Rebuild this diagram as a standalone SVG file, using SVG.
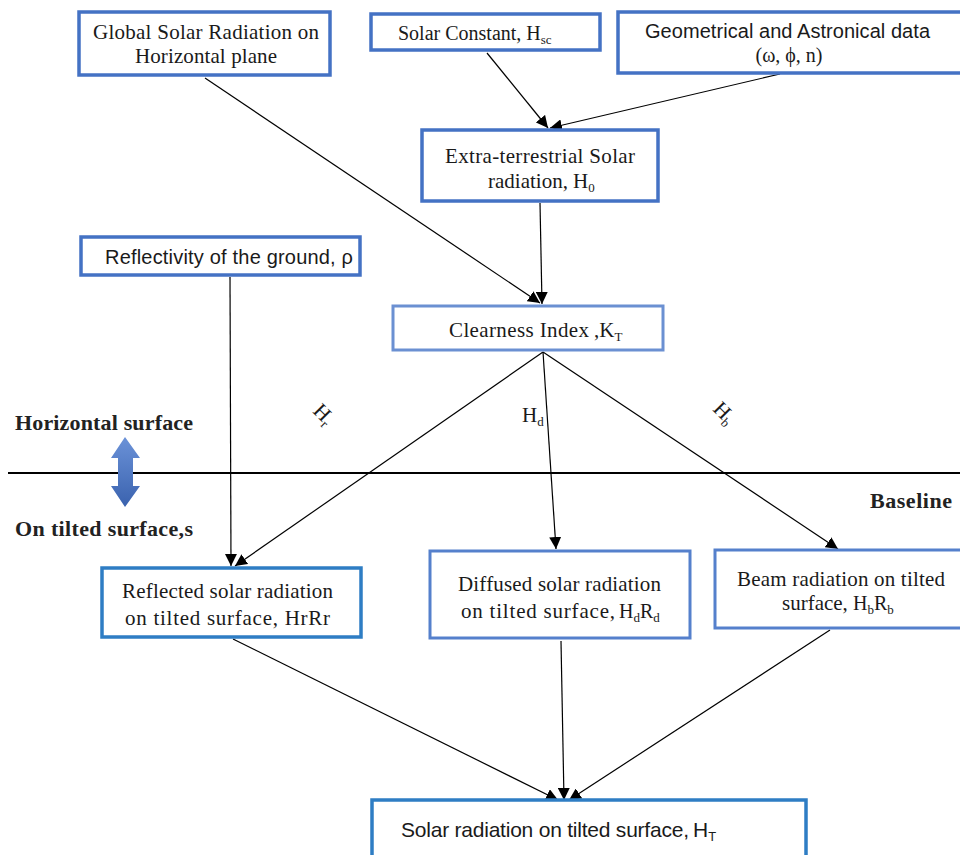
<svg xmlns="http://www.w3.org/2000/svg" width="960" height="855" viewBox="0 0 960 855">
<style>
.bx{fill:#fff;stroke:#4472c4;stroke-width:3.5}
.bx2{fill:#fff;stroke:#2e7dc4;stroke-width:3.5}
.bx3{fill:#fff;stroke:#5580cc;stroke-width:3}
.bx4{fill:#fff;stroke:#6b90d2;stroke-width:3}
.t{font-family:"Liberation Serif","Times New Roman",serif;font-size:20px;fill:#1a1a1a}
.L{font-size:21px}
.m{text-anchor:middle}
.s{font-family:"Liberation Sans",Arial,sans-serif;font-size:20px;fill:#1a1a1a}
.b{font-family:"Liberation Serif","Times New Roman",serif;font-size:22px;font-weight:bold;fill:#222}
.sub{font-size:13px}
.c line{stroke:#000;stroke-width:1.2}
</style>
<defs>
<marker id="ah2" viewBox="0 0 10 10" refX="10" refY="5" markerWidth="12" markerHeight="12" markerUnits="userSpaceOnUse" orient="auto"><path d="M0,0 L10,5 L0,10 z" fill="#000"/></marker>
<linearGradient id="ag" x1="0" y1="0" x2="0" y2="1"><stop offset="0" stop-color="#6b92d8"/><stop offset="1" stop-color="#3a62ae"/></linearGradient>
</defs>
<rect width="960" height="855" fill="#fff"/>
<g class="c">
<line x1="205" y1="78" x2="540" y2="303" marker-end="url(#ah2)"/>
<line x1="487" y1="53" x2="548" y2="128" marker-end="url(#ah2)"/>
<line x1="780" y1="74" x2="550" y2="128" marker-end="url(#ah2)"/>
<line x1="540" y1="203" x2="542" y2="304" marker-end="url(#ah2)"/>
<line x1="230" y1="277" x2="231" y2="566" marker-end="url(#ah2)"/>
<line x1="543" y1="352" x2="235" y2="566" marker-end="url(#ah2)"/>
<line x1="543" y1="352" x2="556" y2="549" marker-end="url(#ah2)"/>
<line x1="543" y1="352" x2="838" y2="549" marker-end="url(#ah2)"/>
<line x1="233" y1="639" x2="558" y2="800" marker-end="url(#ah2)"/>
<line x1="561" y1="641" x2="564" y2="800" marker-end="url(#ah2)"/>
<line x1="830" y1="630" x2="569" y2="800" marker-end="url(#ah2)"/>
<line x1="8" y1="473" x2="960" y2="473" style="stroke-width:2"/>
</g>
<g id="global"><rect class="bx" x="79" y="12" width="251" height="63"/><text class="t L" x="93" y="39" textLength="226" lengthAdjust="spacing">Global Solar Radiation on</text><text class="t L" x="135" y="63" textLength="142" lengthAdjust="spacing">Horizontal plane</text></g>
<g id="solarconst"><rect class="bx" x="371" y="14" width="229" height="36"/><text class="t" x="398" y="40">Solar Constant,  H<tspan class="sub" dy="4">sc</tspan></text></g>
<g id="geo"><rect class="bx" x="618" y="12" width="345" height="61"/><text class="s" x="645" y="38" textLength="285" lengthAdjust="spacing">Geometrical and Astronical data</text><text class="t m" x="789" y="62">(ω, ϕ, n)</text></g>
<g id="extra"><rect class="bx" x="422" y="130" width="236" height="71"/><text class="t L" x="445" y="163" textLength="190" lengthAdjust="spacing">Extra-terrestrial Solar</text><text class="t L" x="488" y="188">radiation,</text><text class="t L" x="573" y="188">H<tspan class="sub" dy="4">0</tspan></text></g>
<g id="reflect"><rect class="bx" x="81" y="237" width="279" height="38"/><text class="s" x="105" y="264" textLength="248" lengthAdjust="spacing">Reflectivity  of the ground, ρ</text></g>
<g id="clear"><rect class="bx4" x="393" y="306" width="270" height="44"/><text class="t L" x="449" y="337" textLength="140" lengthAdjust="spacing">Clearness Index</text><text class="t L" x="594" y="337">,K<tspan class="sub" dy="4">T</tspan></text></g>
<g id="labels">
<text class="b" x="15" y="430" textLength="178" lengthAdjust="spacing">Horizontal surface</text>
<text class="b" x="15" y="536" textLength="178" lengthAdjust="spacing">On tilted surface,s</text>
<text class="b" x="870" y="508" textLength="82" lengthAdjust="spacing">Baseline</text>
<text class="t L" x="0" y="0" transform="translate(312,412) rotate(45)">H<tspan class="sub" dy="4">r</tspan></text>
<text class="t L" x="522" y="422">H<tspan class="sub" dy="4">d</tspan></text>
<text class="t L" x="0" y="0" transform="translate(712,410) rotate(45)">H<tspan class="sub" dy="4">b</tspan></text>
<path d="M125,437 L140,458 L133,458 L133,486 L140,486 L125,507 L111,486 L118,486 L118,458 L111,458 Z" fill="url(#ag)"/>
</g>
<g id="reflected"><rect class="bx2" x="102" y="568" width="259" height="69"/><text class="t L" x="122" y="598" textLength="211" lengthAdjust="spacing">Reflected solar radiation</text><text class="t L" x="125" y="625" textLength="205" lengthAdjust="spacing">on tilted surface,  HrRr</text></g>
<g id="diffused"><rect class="bx3" x="430" y="551" width="260" height="87"/><text class="t L" x="458" y="591" textLength="203" lengthAdjust="spacing">Diffused solar radiation</text><text class="t L" x="461" y="618" textLength="154" lengthAdjust="spacing">on tilted surface,</text><text class="t" x="619" y="618">H<tspan class="sub" dy="4">d</tspan><tspan dy="-4">R</tspan><tspan class="sub" dy="4">d</tspan></text></g>
<g id="beam"><rect class="bx3" x="715" y="550" width="250" height="78"/><text class="t L" x="737" y="586" textLength="208" lengthAdjust="spacing">Beam radiation  on tilted</text><text class="t L" x="782" y="610">surface,</text><text class="t" x="853" y="610">H<tspan class="sub" dy="4">b</tspan><tspan dy="-4">R</tspan><tspan class="sub" dy="4">b</tspan></text></g>
<g id="total"><rect class="bx2" x="372" y="800" width="434" height="60"/><text class="s" x="401" y="837" style="font-size:21px" textLength="288" lengthAdjust="spacing">Solar radiation  on tilted surface,</text><text class="s" x="693" y="837" style="font-size:21px">H<tspan class="sub" dy="4">T</tspan></text></g>
</svg>
